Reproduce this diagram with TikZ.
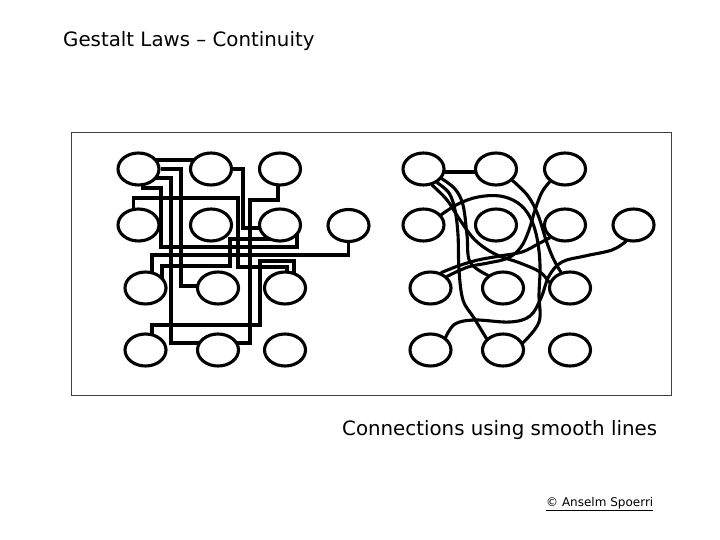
\documentclass[tikz,border=0pt]{standalone}
\usepackage{fontspec}
\setmainfont{DejaVu Sans}
\usetikzlibrary{shapes.geometric,calc}
\pgfdeclarelayer{bg}
\pgfsetlayers{bg,main}
\begin{document}
\begin{tikzpicture}[x=1pt,y=-1pt,
  oval/.style={ellipse, draw, line width=3.1pt, fill=white, minimum width=41pt, minimum height=32pt, inner sep=0pt},
  conn/.style={line width=3.1pt},
  curve/.style={line width=3.1pt, line cap=round},
  big/.style={font=\fontsize{19.8}{24}\selectfont, inner sep=0pt},
  small/.style={font=\fontsize{12}{14}\selectfont, inner sep=0pt}]
\useasboundingbox (0,0) rectangle (720,540);
% frame
\draw[line width=1pt, black!75] (71,133) rectangle (671,395);
% texts
\node[big, anchor=base west] (title) at (63,47) {Gestalt Laws – Continuity};
\node[big, anchor=base west] (caption) at (342,435) {Connections using smooth lines};
\node[small, anchor=base west] (copy) at (546,506) {\underline{© Anselm Spoerri}};
% left group
\node[oval] (A1) at (138.5,169) {};
\node[oval] (A2) at (211,169) {};
\node[oval] (A3) at (280,169) {};
\node[oval] (B1) at (138.5,225) {};
\node[oval] (B2) at (211,225) {};
\node[oval] (B3) at (280,225) {};
\node[oval] (B4) at (348.5,225.5) {};
\node[oval] (C1) at (145.5,288) {};
\node[oval] (C2) at (218,288) {};
\node[oval] (C3) at (285,288) {};
\node[oval] (D1) at (145.5,350) {};
\node[oval] (D2) at (218,350) {};
\node[oval] (D3) at (285,350) {};
% right group
\node[oval] (E1) at (423.5,169) {};
\node[oval] (E2) at (496,169) {};
\node[oval] (E3) at (565,169) {};
\node[oval] (F1) at (423.5,225) {};
\node[oval] (F2) at (496,225) {};
\node[oval] (F3) at (565,225) {};
\node[oval] (F4) at (633.5,225) {};
\node[oval] (G1) at (430.5,288) {};
\node[oval] (G2) at (503,288) {};
\node[oval] (G3) at (570,288) {};
\node[oval] (H1) at (430.5,350) {};
\node[oval] (H2) at (503,350) {};
\node[oval] (H3) at (570,350) {};
\begin{pgfonlayer}{bg}
% orthogonal connectors
\draw[conn] ($(A1)+(0,-9)$) -- ($(A2)+(0,-9)$);
\draw[conn] (A1) -- (181,169) -- (181,286) -- ($(C2)+(0,-2)$);
\draw[conn] ($(A1)+(0,9)$) -- (171,178) -- (171,343) -- ($(D2)+(0,-7)$);
\draw[conn] ($(A1)+(4.5,0)$) -- (143,188) -- (161,188) -- (161,247) -- (297,247) -- ($(B3)+(17,0)$);
\draw[conn] (A2) -- (243,169) -- (243,228) -- ($(B3)+(0,3)$);
\draw[conn] ($(A3)+(-2,0)$) -- (278,200) -- (250,200) -- (250,343) -- ($(D2)+(0,-7)$);
\draw[conn] (B4) -- (348.5,255) -- (152,255) -- ($(C1)+(6.5,0)$);
\draw[conn] ($(B1)+(-5,0)$) -- (133.5,198) -- (238,198) -- (238,267) -- (287,267) -- ($(C3)+(2,0)$);
\draw[conn] ($(C1)+(16.5,0)$) -- (162,266) -- (230,266) -- (230,239) -- ($(B3)+(0,14)$);
\draw[conn] ($(D1)+(6.5,0)$) -- (152,325) -- (260,325) -- (260,261) -- (294,261) -- ($(C3)+(9,0)$);
% smooth connectors
\draw[conn] ($(E1)+(0,3)$) -- ($(E2)+(0,3)$);
\draw[curve] plot[smooth,tension=0.6] coordinates {(E1.-28) (455,189) (463,205) (467,235) (470,262) (G2.140)};
\draw[curve] plot[smooth,tension=0.6] coordinates {(E1.-45) (449,193) (455,210) (458,235) (459,270) (463,300) (474,318) (H2.145)};
\draw[curve] plot[smooth,tension=0.6] coordinates {(E1.-62) (447,200) (460,220) (475,240) (495,254) (520,263) (540,272) (G3.165)};
\draw[curve] plot[smooth,tension=0.6] coordinates {(F1.30) (458,204) (478,197) (500,196) (518,203) (530,217) (537,238) (540,265) (539,295) (539,322) (H2.20)};
\draw[curve] plot[smooth,tension=0.6] coordinates {(E2.-35) (528,196) (538,215) (546,240) (553,258) (G3.120)};
\draw[curve] plot[smooth,tension=0.6] coordinates {(E3.-140) (542,192) (535,210) (529,230) (521,247) (508,258) (488,263) (468,267) (G1.35)};
\draw[curve] plot[smooth,tension=0.6] coordinates {(F3.-140) (538,244) (522,252) (500,256) (478,260) (458,266) (G1.55)};
\draw[curve] plot[smooth,tension=0.6] coordinates {(F4.-115) (612,250) (585,256) (562,262) (549,276) (541,298) (530,316) (510,322) (475,320) (455,324) (H1.40)};
\end{pgfonlayer}
\end{tikzpicture}
\end{document}
